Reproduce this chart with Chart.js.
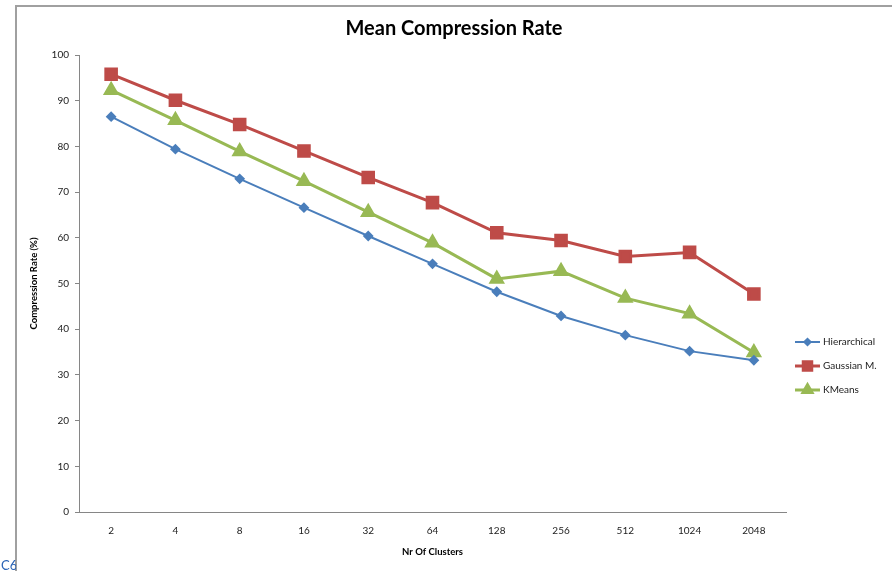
<!DOCTYPE html>
<html>
<head>
<meta charset="utf-8">
<script src="https://cdn.jsdelivr.net/npm/chart.js@4"></script>
<style>
  body { margin: 0; background: #fff; }
  #wrap { position: relative; width: 892px; height: 571px; overflow: hidden; }
  #frame { position: absolute; left: 15px; top: 5px; width: 900px; height: 600px;
           border-left: 2px solid #a0a0a0; border-top: 2px solid #a0a0a0; pointer-events: none; }
  #cell { position: absolute; left: 1px; top: 557px; width: 15px; overflow: hidden;
          font: 13px Lato, sans-serif; color: #2a63b5; white-space: nowrap; }
</style>
</head>
<body>
<div id="wrap">
  <canvas id="chart"></canvas>
  <div id="frame"></div>
  <div id="cell">C6</div>
</div>
<script>
const clusters = ['2', '4', '8', '16', '32', '64', '128', '256', '512', '1024', '2048'];
const hierarchical = [86.5, 79.4, 72.9, 66.6, 60.4, 54.3, 48.2, 42.9, 38.7, 35.2, 33.2];
const gaussian = [95.8, 90.1, 84.8, 79.0, 73.2, 67.7, 61.1, 59.4, 55.9, 56.8, 47.7];
const kmeans = [92.3, 85.7, 78.9, 72.4, 65.6, 58.9, 51.0, 52.7, 46.8, 43.4, 34.9];
const yMin = 0, yMax = 100, yStep = 10;

const axisGrey = '#868686';
const font = 'Lato';

// legend drawn by hand: short line with the marker in the middle, text to the right
const sideLegend = {
  id: 'sideLegend',
  afterDraw(chart) {
    const ctx = chart.ctx;
    const x0 = chart.chartArea.right + 9;
    let y = 342;
    chart.data.datasets.forEach(ds => {
      ctx.save();
      ctx.strokeStyle = ds.borderColor;
      ctx.lineWidth = ds.borderWidth;
      ctx.beginPath();
      ctx.moveTo(x0, y);
      ctx.lineTo(x0 + 25, y);
      ctx.stroke();
      ctx.fillStyle = ds.pointBackgroundColor;
      ctx.strokeStyle = ds.pointBorderColor;
      Chart.helpers.drawPoint(ctx, {
        pointStyle: ds.pointStyle,
        radius: ds.pointRadius * 0.8,
        rotation: 0,
        borderWidth: 1
      }, x0 + 12.5, y);
      ctx.fillStyle = '#222';
      ctx.font = '10px ' + font;
      ctx.textBaseline = 'middle';
      ctx.fillText(ds.label, x0 + 28, y);
      ctx.restore();
      y += 24;
    });
  }
};

new Chart(document.getElementById('chart'), {
  type: 'line',
  data: {
    labels: clusters,
    datasets: [
      {
        label: 'Hierarchical',
        data: hierarchical,
        borderColor: '#4a7ebb',
        borderWidth: 2,
        pointStyle: 'rectRot',
        pointRadius: 4,
        pointBackgroundColor: '#4a7ebb',
        pointBorderColor: '#4a7ebb',
        tension: 0
      },
      {
        label: 'Gaussian M.',
        data: gaussian,
        borderColor: '#be4b48',
        borderWidth: 3,
        pointStyle: 'rect',
        pointRadius: 7.5,
        pointBackgroundColor: '#be4b48',
        pointBorderColor: '#be4b48',
        tension: 0
      },
      {
        label: 'KMeans',
        data: kmeans,
        borderColor: '#98b954',
        borderWidth: 3,
        pointStyle: 'triangle',
        pointRadius: 6.5,
        pointBackgroundColor: '#98b954',
        pointBorderColor: '#98b954',
        tension: 0
      }
    ]
  },
  options: {
    responsive: true,
    maintainAspectRatio: false,
    animation: false,
    layout: { padding: { left: 16, right: 0, top: 0, bottom: 0 } },
    plugins: {
      legend: { display: false },
      tooltip: { enabled: false },
      title: {
        display: true,
        text: 'Mean Compression Rate',
        color: '#000',
        font: { family: font, size: 20, weight: 'bold' },
        padding: { top: 17, bottom: 14 }
      }
    },
    scales: {
      x: {
        offset: true,
        grid: { display: false, drawTicks: false },
        border: { display: true, color: axisGrey, width: 1 },
        ticks: { color: '#222', font: { family: font, size: 10 }, padding: 13, maxRotation: 0 },
        title: {
          display: true,
          text: 'Nr Of Clusters',
          color: '#000',
          font: { family: font, size: 9.5, weight: 'bold' },
          padding: { top: 0, bottom: 13 }
        },
        afterFit(scale) { scale.height = 59; }
      },
      y: {
        min: yMin,
        max: yMax,
        grid: { drawOnChartArea: false, drawTicks: true, tickLength: 4, color: axisGrey },
        border: { display: true, color: axisGrey, width: 1 },
        ticks: { stepSize: yStep, color: '#222', font: { family: font, size: 10 }, padding: 6 },
        title: {
          display: true,
          text: 'Compression Rate (%)',
          color: '#000',
          font: { family: font, size: 9.5, weight: 'bold' },
          padding: { top: 12, bottom: 0 }
        },
        afterFit(scale) { scale.width = 63; }
      },
      // empty right-hand box that leaves room for the legend
      legendSpace: {
        type: 'linear',
        position: 'right',
        display: true,
        grid: { display: false },
        border: { display: false },
        ticks: { display: false },
        afterFit(scale) { scale.width = 106; }
      }
    }
  },
  plugins: [sideLegend]
});
</script>
</body>
</html>
